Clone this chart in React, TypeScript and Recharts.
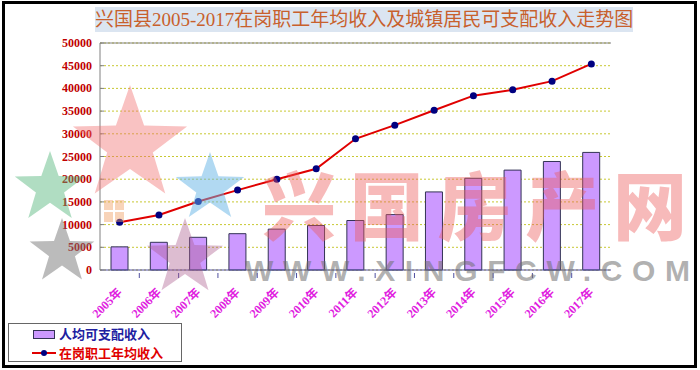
import React from 'react';
import {
  ComposedChart,
  Bar,
  Line,
  XAxis,
  YAxis,
  CartesianGrid,
  ReferenceLine,
} from 'recharts';

// values
const years = ['2005年', '2006年', '2007年', '2008年', '2009年', '2010年', '2011年', '2012年', '2013年', '2014年', '2015年', '2016年', '2017年'];
const disposableIncome = [5100, 6100, 7200, 8000, 9000, 9800, 10900, 12200, 17200, 20200, 22000, 23900, 25900];
const wageIncome = [10500, 12100, 15100, 17600, 20000, 22300, 28900, 31900, 35200, 38400, 39700, 41600, 45400];
const yTicks = [0, 5000, 10000, 15000, 20000, 25000, 30000, 35000, 40000, 45000, 50000];

const data = years.map((year, i) => ({
  year,
  disposable: disposableIncome[i],
  wage: wageIncome[i],
}));

const W = 700;
const H = 370;
const plotLeft = 100;
const plotRight = 611;
const step = (plotRight - plotLeft) / years.length;

const serif = '"Liberation Serif", "DejaVu Serif", "Noto Sans CJK SC", serif';

const YTick = (props: any) => {
  const { x, y, payload } = props;
  return (
    <g>
      <line x1={x + 8} x2={x + 12} y1={y} y2={y} stroke="#808080" />
      <text x={x} y={y} dy={4} textAnchor="end" fill="#c00000" fontSize={12} fontWeight="bold" fontFamily={serif}>
        {payload.value}
      </text>
    </g>
  );
};

const XTick = (props: any) => {
  const { x, y, payload, index } = props;
  return (
    <g transform={`translate(${x},${y})`}>
      {index < years.length - 1 && (
        <line x1={step / 2} x2={step / 2} y1={-5} y2={0} stroke="#5050a0" />
      )}
      <text
        transform="translate(3,15) rotate(-45)"
        textAnchor="end"
        fill="#e020e0"
        fontSize={12}
        fontWeight="bold"
        fontFamily={serif}
      >
        {payload.value}
      </text>
    </g>
  );
};

function starPoints(cx: number, cy: number, R: number) {
  const r = R * 0.4;
  const pts: string[] = [];
  for (let i = 0; i < 10; i++) {
    const a = -Math.PI / 2 + (i * Math.PI) / 5;
    const rad = i % 2 === 0 ? R : r;
    pts.push(`${cx + rad * Math.cos(a)},${cy + rad * Math.sin(a)}`);
  }
  return pts.join(' ');
}

export default function App() {
  return (
    <div style={{ position: 'relative', width: W, height: H, background: '#fff', overflow: 'hidden' }}>
      <style>{'body{margin:0}'}</style>

      <ComposedChart
        width={W}
        height={H}
        data={data}
        margin={{ top: 43, right: W - plotRight, left: 40, bottom: 50 }}
      >
        <CartesianGrid vertical={false} stroke="#c8c832" strokeDasharray="2 2" />
        <XAxis
          dataKey="year"
          height={50}
          tickLine={false}
          axisLine={{ stroke: '#5050a0' }}
          tick={<XTick />}
          interval={0}
        />
        <YAxis
          width={60}
          domain={[0, 50000]}
          ticks={yTicks}
          interval={0}
          tickLine={false}
          tickSize={0}
          tickMargin={8}
          axisLine={{ stroke: '#808080' }}
          tick={<YTick />}
        />
        <YAxis
          yAxisId="frame"
          orientation="right"
          width={0}
          tick={false}
          tickLine={false}
          axisLine={{ stroke: '#808080' }}
        />
        <ReferenceLine y={50000} stroke="#808080" />
        <Bar
          dataKey="disposable"
          name="人均可支配收入"
          barSize={17}
          fill="#cc99ff"
          stroke="#333355"
          strokeWidth={1}
          isAnimationActive={false}
        />
        <Line
          dataKey="wage"
          name="在岗职工年均收入"
          type="linear"
          stroke="#e00000"
          strokeWidth={2}
          dot={{ r: 3.5, fill: '#000080', stroke: '#000080', strokeWidth: 0 }}
          isAnimationActive={false}
        />
      </ComposedChart>

      {/* watermarks */}
      <svg width={W} height={H} style={{ position: 'absolute', left: 0, top: 0, pointerEvents: 'none' }}>
        <polygon points={starPoints(130, 145, 60)} fill="rgba(240,110,110,0.42)" />
        <polygon points={starPoints(50, 188, 37)} fill="rgba(80,180,120,0.45)" />
        <polygon points={starPoints(210, 188, 36)} fill="rgba(100,180,230,0.5)" />
        <polygon points={starPoints(62, 252, 34)} fill="rgba(120,120,120,0.5)" />
        <polygon points={starPoints(185, 258, 40)} fill="rgba(170,90,140,0.4)" />
        <rect x={104} y={200} width={9} height={10} fill="rgba(240,160,100,0.45)" />
        <rect x={115} y={200} width={9} height={10} fill="rgba(240,160,100,0.45)" />
        <rect x={104} y={212} width={9} height={10} fill="rgba(240,160,100,0.45)" />
        <rect x={115} y={212} width={9} height={10} fill="rgba(240,160,100,0.45)" />
        <text x={262} y={234} fontSize={74} fontWeight={900} fill="rgba(235,90,90,0.42)" fontFamily='"Noto Sans CJK SC", sans-serif' textLength={425}>
          兴国房产网
        </text>
        <text x={245} y={281} fontSize={30} fontWeight="bold" fill="rgba(110,110,110,0.55)" fontFamily='"Liberation Sans", Arial, sans-serif' textLength={445}>
          WWW.XINGFCW.COM
        </text>
      </svg>

      {/* title */}
      <div
        style={{
          position: 'absolute',
          left: 95,
          top: 7,
          width: 538,
          height: 25,
          background: '#dbe5f1',
          color: '#c8602c',
          fontFamily: serif,
          fontSize: 19,
          lineHeight: '25px',
          textAlign: 'center',
          whiteSpace: 'nowrap',
        }}
      >
        兴国县2005-2017在岗职工年均收入及城镇居民可支配收入走势图
      </div>

      {/* legend */}
      <div
        style={{
          position: 'absolute',
          left: 8,
          top: 323,
          width: 174,
          height: 39,
          boxSizing: 'border-box',
          border: '1px solid #666',
          background: '#fff',
          fontFamily: '"Noto Sans CJK SC", sans-serif',
          fontSize: 13,
          fontWeight: 'bold',
        }}
      >
        <div style={{ position: 'absolute', left: 24, top: 6, width: 20, height: 7, background: '#cc99ff', border: '1px solid #333355' }} />
        <div style={{ position: 'absolute', left: 50, top: 0, lineHeight: '19px', color: '#2020a0' }}>人均可支配收入</div>
        <svg width={26} height={10} style={{ position: 'absolute', left: 23, top: 24 }}>
          <line x1={0} x2={24} y1={5} y2={5} stroke="#e00000" strokeWidth={2} />
          <circle cx={12} cy={5} r={3} fill="#000080" />
        </svg>
        <div style={{ position: 'absolute', left: 50, top: 19, lineHeight: '19px', color: '#e00000' }}>在岗职工年均收入</div>
      </div>

      {/* outer frame */}
      <div
        style={{
          position: 'absolute',
          left: 2,
          top: 1,
          width: 695,
          height: 367,
          boxSizing: 'border-box',
          border: '3px solid #000',
          pointerEvents: 'none',
        }}
      />
    </div>
  );
}
